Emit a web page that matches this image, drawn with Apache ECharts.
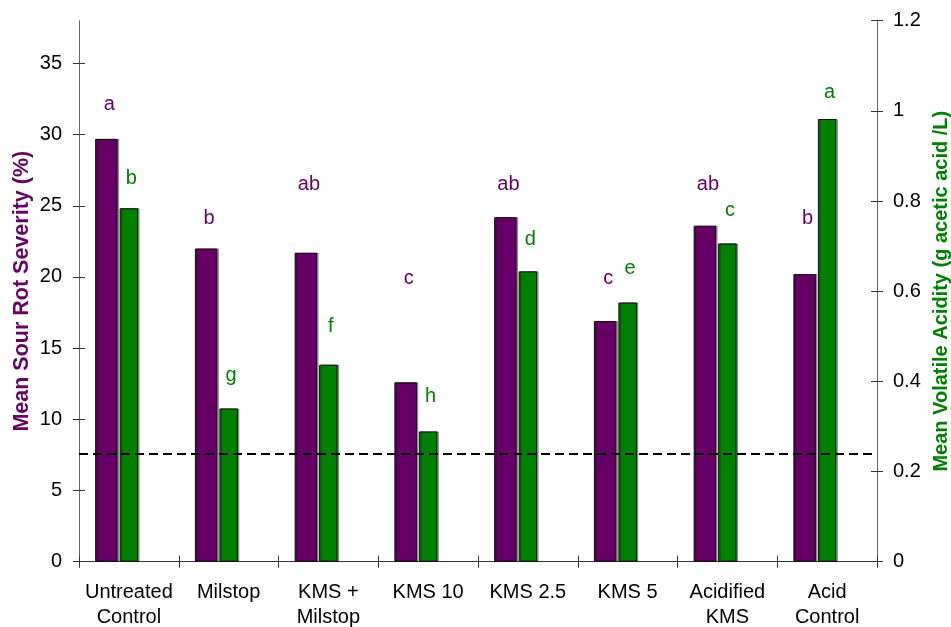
<!DOCTYPE html>
<html>
<head>
<meta charset="utf-8">
<script src="https://cdn.jsdelivr.net/npm/echarts@6/dist/echarts.min.js"></script>
<style>
html,body{margin:0;padding:0;background:#fff;}
#chart{width:951px;height:627px;}
</style>
</head>
<body>
<div id="chart"></div>
<script>
// ---- data ----
const categories = ['Untreated\nControl', 'Milstop', 'KMS +\nMilstop', 'KMS 10', 'KMS 2.5', 'KMS 5', 'Acidified\nKMS', 'Acid\nControl'];
const sourRot = [29.7, 22.0, 21.7, 12.6, 24.2, 16.9, 23.6, 20.2];          // left axis, %
const volatileAcidity = [0.784, 0.340, 0.437, 0.289, 0.644, 0.575, 0.706, 0.982]; // right axis, g/L
const sourRotLetters = ['a', 'b', 'ab', 'c', 'ab', 'c', 'ab', 'b'];
const sourRotLetterY = [32.1, 24.1, 26.5, 19.9, 26.5, 19.9, 26.5, 24.1];
const vaLetters = ['b', 'g', 'f', 'h', 'd', 'e', 'c', 'a'];
const vaLetterY = [0.849, 0.413, 0.522, 0.367, 0.714, 0.650, 0.779, 1.041];
const vaThreshold = 0.245;
const leftTicks = [0, 5, 10, 15, 20, 25, 30, 35];
const rightTicks = [0, 0.2, 0.4, 0.6, 0.8, 1.0, 1.2];

const PURPLE = '#660066';
const GREEN = '#008000';
const FONT = 'Liberation Sans, Arial, sans-serif';

const chart = echarts.init(document.getElementById('chart'), null, {renderer: 'canvas'});
const gridRect = {left: 79, right: 74, top: 20.7, bottom: 65.3, containLabel: false, outerBoundsMode: 'none'};

const letterLabel = (letters, color, dx) => ({
  show: true, position: 'inside', offset: [dx, 0],
  formatter: p => letters[p.dataIndex],
  fontFamily: FONT, fontSize: 20, color: color, opacity: 1,
  textBorderWidth: 0, textBorderColor: 'transparent', textShadowBlur: 0
});

const option = {
  animation: false,
  backgroundColor: '#ffffff',
  textStyle: {fontFamily: FONT},
  grid: [Object.assign({}, gridRect), Object.assign({}, gridRect)],
  xAxis: [
    {
      type: 'category', gridIndex: 0, data: categories, position: 'bottom',
      axisLine: {show: true, lineStyle: {color: '#333', width: 1}},
      axisTick: {show: true, inside: false, length: 6, lineStyle: {color: '#333'}},
      axisLabel: {fontFamily: FONT, fontSize: 20, color: '#000', margin: 18, lineHeight: 25, interval: 0}
    },
    {
      type: 'category', gridIndex: 0, data: categories, show: false
    },
    {
      type: 'category', gridIndex: 1, data: categories, position: 'bottom',
      axisLine: {show: false},
      axisTick: {show: true, inside: true, length: 6, lineStyle: {color: '#333'}},
      axisLabel: {show: false}
    }
  ],
  yAxis: [
    {
      type: 'value', gridIndex: 0, position: 'left', min: 0, max: 38, interval: 5,
      name: 'Mean Sour Rot Severity (%)', nameLocation: 'middle', nameGap: 46, nameMoveOverlap: false,
      nameTextStyle: {fontFamily: FONT, fontSize: 21.5, fontWeight: 'bold', color: PURPLE},
      axisLine: {show: true, lineStyle: {color: '#666'}},
      axisTick: {show: true, inside: false, length: 6, customValues: leftTicks, lineStyle: {color: '#333'}},
      axisLabel: {fontFamily: FONT, fontSize: 20, color: '#000', margin: 17, customValues: leftTicks},
      splitLine: {show: false}
    },
    {
      type: 'value', gridIndex: 0, position: 'right', min: 0, max: 1.2, interval: 0.2,
      name: 'Mean Volatile Acidity (g acetic acid /L)', nameLocation: 'middle', nameGap: 54, nameRotate: 90,
      nameTextStyle: {fontFamily: FONT, fontSize: 20, fontWeight: 'bold', color: GREEN},
      axisLine: {show: true, lineStyle: {color: '#666'}},
      axisTick: {show: true, inside: false, length: 6, customValues: rightTicks, lineStyle: {color: '#333'}},
      axisLabel: {fontFamily: FONT, fontSize: 20, color: '#000', margin: 16, customValues: rightTicks,
        formatter: v => (Math.round(v * 10) / 10).toString()},
      splitLine: {show: false}
    },
    {
      type: 'value', gridIndex: 1, position: 'left', min: 0, max: 38, interval: 5,
      axisLine: {show: false},
      axisTick: {show: true, inside: true, length: 6, customValues: leftTicks, lineStyle: {color: '#333'}},
      axisLabel: {show: false}, splitLine: {show: false}
    },
    {
      type: 'value', gridIndex: 1, position: 'right', min: 0, max: 1.2, interval: 0.2,
      axisLine: {show: false},
      axisTick: {show: true, inside: true, length: 6, customValues: rightTicks, lineStyle: {color: '#333'}},
      axisLabel: {show: false}, splitLine: {show: false}
    }
  ],
  series: [
    {
      name: 'Sour rot', type: 'bar', xAxisIndex: 0, yAxisIndex: 0,
      data: sourRot, barWidth: 22.5, barGap: '100%',
      itemStyle: {color: PURPLE, borderColor: '#111', borderWidth: 1,
        shadowColor: 'rgba(0,0,0,0.35)', shadowOffsetX: 1.5, shadowBlur: 0}
    },
    {
      name: 'spacer', type: 'bar', xAxisIndex: 0, yAxisIndex: 0,
      data: sourRot.map(() => 0), barWidth: 22.5, itemStyle: {color: 'transparent'}, silent: true
    },
    {
      name: 'Volatile acidity', type: 'bar', xAxisIndex: 1, yAxisIndex: 1,
      data: volatileAcidity, barWidth: 18.5,
      itemStyle: {color: GREEN, borderColor: '#111', borderWidth: 1,
        shadowColor: 'rgba(0,0,0,0.35)', shadowOffsetX: 1.5, shadowBlur: 0},
      markLine: {
        silent: true, symbol: ['none', 'none'],
        label: {show: false},
        lineStyle: {color: '#000', type: [9, 5], width: 2},
        data: [{yAxis: vaThreshold}]
      }
    },
    {
      name: 'sour rot letters', type: 'scatter', xAxisIndex: 0, yAxisIndex: 0,
      data: sourRotLetterY, symbolSize: 0, itemStyle: {color: PURPLE, opacity: 1},
      label: letterLabel(sourRotLetters, PURPLE, -19.5)
    },
    {
      name: 'va letters', type: 'scatter', xAxisIndex: 1, yAxisIndex: 1,
      data: vaLetterY, symbolSize: 0, itemStyle: {color: GREEN, opacity: 1},
      label: letterLabel(vaLetters, GREEN, 2.5)
    }
  ]
};
chart.setOption(option);
</script>
</body>
</html>
